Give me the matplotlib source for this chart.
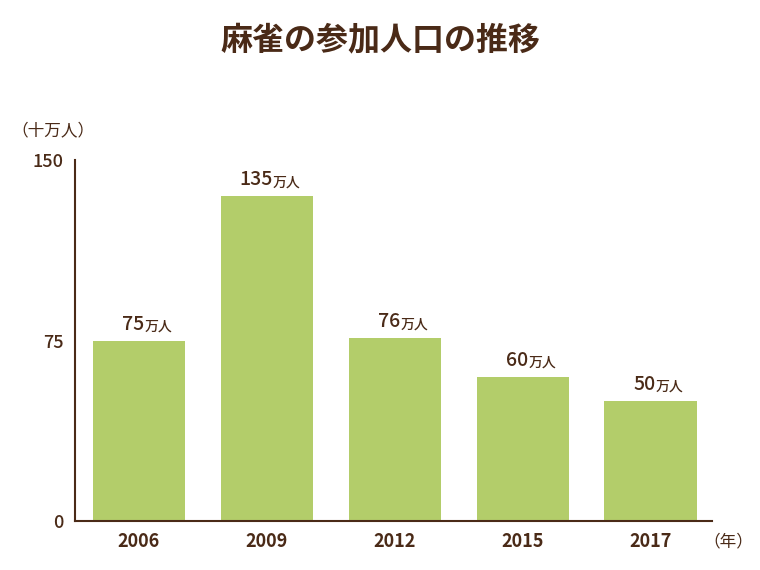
import matplotlib
matplotlib.use("Agg")
import matplotlib.pyplot as plt

plt.rcParams['font.family'] = ['Noto Sans CJK JP', 'DejaVu Sans']

years = ["2006", "2009", "2012", "2015", "2017"]
values = [75, 135, 76, 60, 50]
labels = ["75", "135", "76", "60", "50"]

brown = "#4a2a17"
green = "#b3cd6a"

fig = plt.figure(figsize=(7.6, 5.7), dpi=100)
ax = fig.add_axes([0.0987, 0.086, 0.838, 0.633])
x = list(range(len(years)))
ax.bar(x, values, width=0.72, color=green, zorder=2)
ax.set_xlim(-0.5, 4.48)
ax.set_ylim(0, 150)
ax.set_yticks([0, 75, 150])
ax.set_yticklabels(["0", "75", "150"], fontsize=13, color=brown, fontweight='medium')
ax.set_xticks(x)
ax.set_xticklabels(years, fontsize=13, color=brown, fontweight='bold')
ax.tick_params(length=0, pad=8)
for s in ['top', 'right']:
    ax.spines[s].set_visible(False)
for s in ['left', 'bottom']:
    ax.spines[s].set_color(brown)
    ax.spines[s].set_linewidth(1.5)

for xi, v, lab in zip(x, values, labels):
    ax.annotate(lab, (xi, v), xytext=(4, 5), textcoords='offset points',
                ha='right', va='bottom', fontsize=14, color=brown, fontweight='medium')
    ax.annotate("万人", (xi, v), xytext=(4, 5), textcoords='offset points',
                ha='left', va='bottom', fontsize=10, color=brown, fontweight='medium')

fig.text(0.5, 0.93, "麻雀の参加人口の推移", ha='center', va='center',
         fontsize=23, fontweight='bold', color=brown)
fig.text(0.015, 0.77, "（十万人）", ha='left', va='center', fontsize=12, color=brown)
fig.text(0.925, 0.05, "（年）", ha='left', va='center', fontsize=12, color=brown)

fig.savefig("out.png", dpi=100)
